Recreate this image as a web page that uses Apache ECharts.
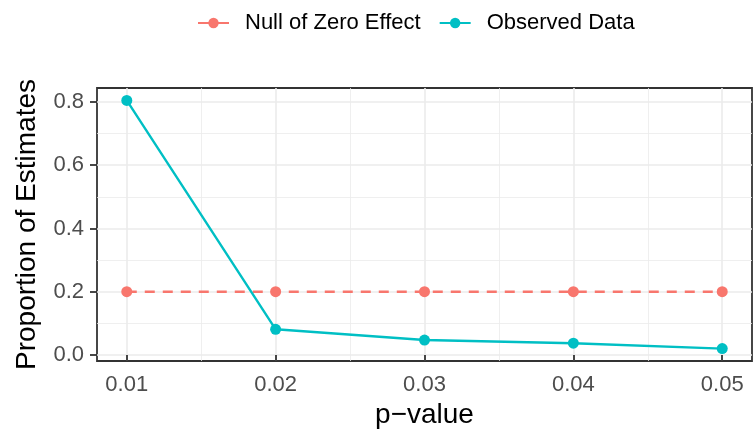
<!DOCTYPE html>
<html>
<head>
<meta charset="utf-8">
<script src="https://cdn.jsdelivr.net/npm/echarts@6/dist/echarts.min.js"></script>
<style>
  html, body { margin: 0; padding: 0; background: #fff; }
  #chart { width: 753px; height: 438px; }
</style>
</head>
<body>
<div id="chart"></div>
<script>
const pValues = [0.01, 0.02, 0.03, 0.04, 0.05]
const nullShare = [0.2, 0.2, 0.2, 0.2, 0.2]
const observedShare = [0.805, 0.081, 0.047, 0.037, 0.020]
const xTicks = [0.01, 0.02, 0.03, 0.04, 0.05]
const xMinor = [0.015, 0.025, 0.035, 0.045]
const yTicks = [0, 0.2, 0.4, 0.6, 0.8]
const yMinor = [0.1, 0.3, 0.5, 0.7]

const font = 'Liberation Sans, Arial, sans-serif'
const chart = echarts.init(document.getElementById('chart'))

// major ticks / grid (ggplot theme_bw look)
const majorAxis = (ticks, fmt) => ({
    axisLine: { show: false },
    axisTick: { show: true, length: 7, customValues: ticks, lineStyle: { color: '#333', width: 1.8 } },
    axisLabel: {
        customValues: ticks, color: '#4d4d4d', fontSize: 22, fontFamily: font, margin: 13,
        formatter: v => v.toFixed(fmt)
    },
    splitLine: { show: true, lineStyle: { color: '#ebebeb', width: 1.6 } }
})
// minor grid only
const minorAxis = (ticks) => ({
    axisLine: { show: false },
    axisTick: { show: false, customValues: ticks },
    axisLabel: { show: false, customValues: ticks },
    splitLine: { show: true, lineStyle: { color: '#ebebeb', width: 0.8 } }
})

const option = {
    backgroundColor: '#fff',
    animation: false,
    grid: {
        left: 97, right: 1, top: 88, bottom: 77,
        show: true, borderColor: '#333', borderWidth: 1.8, backgroundColor: '#fff'
    },
    legend: {
        top: 7, left: 192,
        itemWidth: 31, itemHeight: 13, itemGap: 18,
        lineStyle: { type: 'solid' },
        textStyle: { fontSize: 22, fontFamily: font, color: '#000', padding: [0, 0, 0, 11] },
        data: ['Null of Zero Effect', 'Observed Data']
    },
    xAxis: [
        Object.assign(majorAxis(xTicks, 2), {
            type: 'value', min: 0.008, max: 0.052,
            name: 'p\u2212value', nameLocation: 'middle', nameGap: 38,
            nameTextStyle: { fontSize: 28, fontFamily: font, color: '#000' }
        }),
        Object.assign(minorAxis(xMinor), { type: 'value', min: 0.008, max: 0.052, position: 'bottom' })
    ],
    yAxis: [
        Object.assign(majorAxis(yTicks, 1), {
            type: 'value', min: -0.0193, max: 0.8443,
            name: 'Proportion of Estimates', nameLocation: 'middle', nameGap: 56,
            nameTextStyle: { fontSize: 28, fontFamily: font, color: '#000' }
        }),
        Object.assign(minorAxis(yMinor), { type: 'value', min: -0.0193, max: 0.8443, position: 'left' })
    ],
    series: [
        {
            name: 'Null of Zero Effect', type: 'line',
            data: pValues.map((p, i) => [p, nullShare[i]]),
            symbol: 'circle', symbolSize: 11,
            itemStyle: { color: '#F8766D' },
            lineStyle: { color: '#F8766D', width: 2.4, type: [10, 8] }
        },
        {
            name: 'Observed Data', type: 'line',
            data: pValues.map((p, i) => [p, observedShare[i]]),
            symbol: 'circle', symbolSize: 11,
            itemStyle: { color: '#00BFC4' },
            lineStyle: { color: '#00BFC4', width: 2.4 }
        }
    ]
}
chart.setOption(option)
</script>
</body>
</html>
